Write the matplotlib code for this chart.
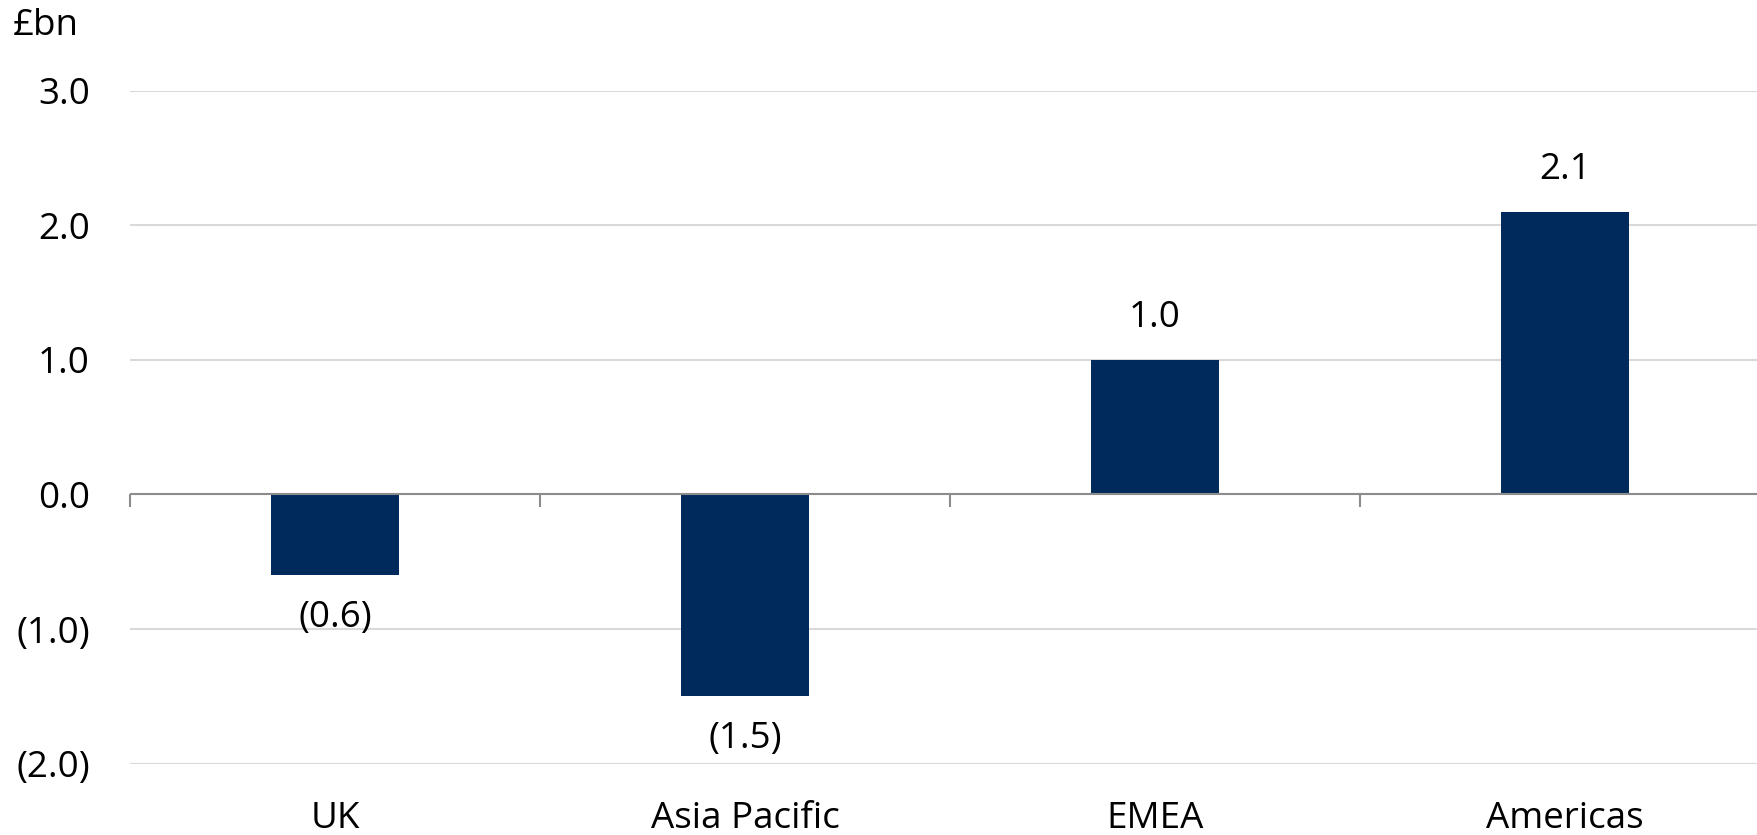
import numpy as np
import matplotlib.pyplot as plt

plt.rcParams['font.family'] = ['Open Sans', 'DejaVu Sans']

regions = ['UK', 'Asia Pacific', 'EMEA', 'Americas']
values = [-0.6, -1.5, 1.0, 2.1]
yticks = [-2.0, -1.0, 0.0, 1.0, 2.0, 3.0]
ytick_labels = ['(2.0)', '(1.0)', '0.0', '1.0', '2.0', '3.0']
bar_labels = ['(0.6)', '(1.5)', '1.0', '2.1']

fig = plt.figure(figsize=(17.58, 8.35), dpi=100)
ax = fig.add_axes([130 / 1758, 0.0854, 1 - 130 / 1758, 0.8060])

x = np.arange(len(regions))
bars = ax.bar(x, values, width=0.314, color='#002A5C', zorder=3)

ax.set_xlim(-0.5, -0.5 + (1758 - 130) / 410)
ax.set_ylim(-2, 3)
ax.set_yticks(yticks)
ax.set_yticklabels(ytick_labels)
ax.set_xticks(x)
ax.set_xticklabels(regions)
ax.tick_params(axis='y', length=0, pad=29, labelsize=26.5)
ax.tick_params(axis='x', length=0, pad=27, labelsize=26.5)
ax.grid(axis='y', color='#d9d9d9', linewidth=1.5, zorder=0)
for s in ax.spines.values():
    s.set_visible(False)

# zero line with category separators
ax.axhline(0, color='#8c8c8c', linewidth=1.5, zorder=4)
ax.vlines(x - 0.5, -0.09, 0, color='#8c8c8c', linewidth=1.5, zorder=4, clip_on=False)

for b, v, lab in zip(bars, values, bar_labels):
    off = 17 if v > 0 else -18
    ax.annotate(lab, (b.get_x() + b.get_width() / 2, v), xytext=(0, off),
                textcoords='offset points', ha='center',
                va='bottom' if v > 0 else 'top', fontsize=26.5, color='black')

fig.text(13 / 1758, 1 - 35 / 835, '£bn', fontsize=26.5, ha='left', va='baseline')

fig.savefig('out.png', dpi=100)
